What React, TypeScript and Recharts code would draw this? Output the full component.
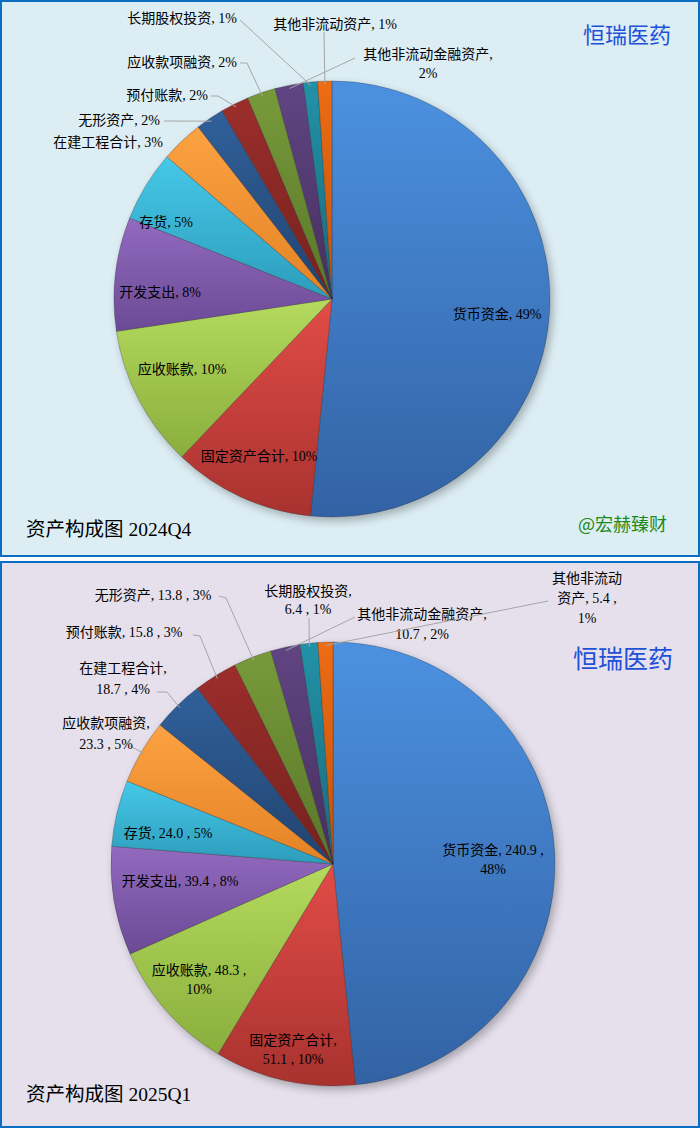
import React from 'react';
import { PieChart, Pie, Cell } from 'recharts';

// ---------- data ----------
const q4Names = ['货币资金', '固定资产合计', '应收账款', '开发支出', '存货', '在建工程合计', '无形资产', '预付账款', '应收款项融资', '其他非流动金融资产', '长期股权投资', '其他非流动资产'];
const q4Pct = [49, 10, 10, 8, 5, 3, 2, 2, 2, 2, 1, 1];

const q1Names = ['货币资金', '固定资产合计', '应收账款', '开发支出', '存货', '应收款项融资', '在建工程合计', '预付账款', '无形资产', '其他非流动金融资产', '长期股权投资', '其他非流动资产'];
const q1Values = [240.9, 51.1, 48.3, 39.4, 24.0, 23.3, 18.7, 15.8, 13.8, 10.7, 6.4, 5.4];

const company = '恒瑞医药';
const q4Title = '资产构成图 2024Q4';
const q1Title = '资产构成图 2025Q1';
const watermark = '@宏赫臻财';

// ---------- styles ----------
const sliceColors: [string, string][] = [
  ['#4C91E0', '#3262A4'],
  ['#E24C47', '#A8322F'],
  ['#B4DA5E', '#8AAE3C'],
  ['#926ABF', '#6B4A95'],
  ['#46C8E8', '#2D9CBB'],
  ['#FCA242', '#E38224'],
  ['#30609A', '#22436F'],
  ['#9C2E2B', '#74211F'],
  ['#789A3B', '#587728'],
  ['#604583', '#462F5E'],
  ['#2292A8', '#196A7B'],
  ['#EE6C14', '#C2520A'],
];

const FONT = "'Liberation Serif', 'Noto Sans CJK SC', serif";
const LEADER = '#A6A6A6';

type Lay = { x: number; y: number; a: 'start' | 'middle' | 'end'; lh?: number; lead?: number[][]; mode: string };

// label layout relative to pie centre (pixels)
const q4Layout: Lay[] = [
  { x: 165, y: 15, a: 'middle', mode: 'one' },
  { x: -73, y: 157, a: 'middle', mode: 'one' },
  { x: -150, y: 70, a: 'middle', mode: 'one' },
  { x: -172, y: -7, a: 'middle', mode: 'one' },
  { x: -166, y: -77, a: 'middle', mode: 'one' },
  { x: -169, y: -157, a: 'end', mode: 'one' },
  { x: -172, y: -179, a: 'end', mode: 'one', lead: [[-168, -178]] },
  { x: -124, y: -204, a: 'end', mode: 'one', lead: [[-121, -203], [-114, -203]] },
  { x: -95, y: -237, a: 'end', mode: 'one', lead: [[-92, -236], [-85, -236]] },
  { x: 96, y: -245, a: 'middle', lh: 19, mode: 'nameBreak', lead: [[23, -241]] },
  { x: -95, y: -281, a: 'end', mode: 'one', lead: [[-92, -279]] },
  { x: 3, y: -275, a: 'middle', mode: 'one', lead: [[-8, -267]] },
];

const q1Layout: Lay[] = [
  { x: 160, y: -14, a: 'middle', lh: 19, mode: 'pctBreak' },
  { x: -40, y: 176, a: 'middle', lh: 19, mode: 'nameBreak' },
  { x: -134, y: 106, a: 'middle', lh: 19, mode: 'pctBreak' },
  { x: -153, y: 17, a: 'middle', mode: 'one' },
  { x: -165, y: -31, a: 'middle', mode: 'one' },
  { x: -227, y: -141, a: 'middle', lh: 21, mode: 'nameBreak', lead: [[-203, -118]] },
  { x: -210, y: -196, a: 'middle', lh: 21, mode: 'nameBreak', lead: [[-176, -172], [-166, -172]] },
  { x: -209, y: -232, a: 'middle', mode: 'one', lead: [[-140, -229], [-133, -228]] },
  { x: -180, y: -269, a: 'middle', mode: 'one', lead: [[-114, -268], [-107, -266]] },
  { x: 89, y: -250, a: 'middle', lh: 20, mode: 'nameBreak', lead: [[22, -247]] },
  { x: -25, y: -273, a: 'middle', lh: 18, mode: 'nameBreak', lead: [[-24, -246]] },
  { x: 254, y: -286, a: 'middle', lh: 20, mode: 'split5', lead: [[215, -263]] },
];

const q4Data = q4Names.map((name, i) => ({ name, value: q4Pct[i] }));
const q1Total = q1Values.reduce((s, v) => s + v, 0);
const q1Data = q1Names.map((name, i) => ({ name, value: q1Values[i] }));

const q4Lines = (i: number) => {
  const n = q4Names[i];
  const p = `${q4Pct[i]}%`;
  const m = q4Layout[i].mode;
  if (m === 'nameBreak') return [`${n},`, p];
  return [`${n}, ${p}`];
};

const q1Lines = (i: number) => {
  const n = q1Names[i];
  const v = q1Values[i].toFixed(1);
  const p = `${Math.round((q1Values[i] / q1Total) * 100)}%`;
  const m = q1Layout[i].mode;
  if (m === 'pctBreak') return [`${n}, ${v} ,`, p];
  if (m === 'nameBreak') return [`${n},`, `${v} , ${p}`];
  if (m === 'split5') return [n.slice(0, 5), `${n.slice(5)}, ${v} ,`, p];
  return [`${n}, ${v} , ${p}`];
};

const makeLabel = (layout: Lay[], linesOf: (i: number) => string[]) => (props: any) => {
  const { cx, cy, midAngle, outerRadius, index } = props;
  const L = layout[index];
  const lines = linesOf(index);
  const lh = L.lh || 19;
  const RAD = Math.PI / 180;
  const ex = cx + outerRadius * 0.985 * Math.cos(-midAngle * RAD);
  const ey = cy + outerRadius * 0.985 * Math.sin(-midAngle * RAD);
  const pts = L.lead ? [...L.lead.map(([px, py]) => `${cx + px},${cy + py}`), `${ex},${ey}`].join(' ') : null;
  return (
    <g>
      {pts && <polyline points={pts} fill="none" stroke={LEADER} strokeWidth={1} />}
      {lines.map((t, k) => (
        <text
          key={k}
          x={cx + L.x}
          y={cy + L.y + k * lh}
          textAnchor={L.a}
          dominantBaseline="central"
          fontSize={14}
          fontFamily={FONT}
          fill="#000"
        >
          {t}
        </text>
      ))}
    </g>
  );
};

const Gradients = ({ id }: { id: string }) => (
  <defs>
    {sliceColors.map(([a, b], i) => (
      <linearGradient key={i} id={`${id}-g${i}`} x1="0" y1="0" x2="0" y2="1">
        <stop offset="0%" stopColor={a} />
        <stop offset="100%" stopColor={b} />
      </linearGradient>
    ))}
  </defs>
);

const Panel = (p: {
  top: number; height: number; bg: string; id: string; data: any[]; cx: number; cy: number; r: number;
  label: (props: any) => any; title: string; titleTop: number; companyTop: number; companyLeft: number;
  companySize: number; mark?: boolean;
}) => (
  <div
    style={{
      position: 'absolute', left: 0, top: p.top, width: 700, height: p.height, boxSizing: 'border-box',
      border: '2px solid #0A6FC3', background: p.bg, overflow: 'hidden',
    }}
  >
    <PieChart width={696} height={p.height - 4} margin={{ top: 0, right: 0, bottom: 0, left: 0 }}>
      <Gradients id={p.id} />
      <Pie
        data={[{ name: 's', value: 1 }]}
        dataKey="value"
        cx={p.cx + 3}
        cy={p.cy + 4}
        outerRadius={p.r}
        startAngle={90}
        endAngle={-270}
        stroke="none"
        isAnimationActive={false}
        label={false}
        labelLine={false}
      >
        <Cell fill="rgba(0,0,0,0.28)" style={{ filter: 'blur(4px)' }} />
      </Pie>
      <Pie
        data={p.data}
        dataKey="value"
        nameKey="name"
        cx={p.cx}
        cy={p.cy}
        outerRadius={p.r}
        startAngle={90}
        endAngle={-270}
        isAnimationActive={false}
        labelLine={false}
        label={p.label}
      >
        {p.data.map((_, i) => (
          <Cell key={i} fill={`url(#${p.id}-g${i})`} stroke="rgba(40,40,40,0.35)" strokeWidth={0.8} />
        ))}
      </Pie>
    </PieChart>
    <div
      style={{
        position: 'absolute', left: p.companyLeft, top: p.companyTop, fontSize: p.companySize, color: '#1E50D8',
        fontFamily: "'Noto Sans CJK SC', sans-serif", lineHeight: '28px', whiteSpace: 'nowrap',
      }}
    >
      {company}
    </div>
    <div
      style={{
        position: 'absolute', left: 24, top: p.titleTop, fontSize: 19.5, color: '#000',
        fontFamily: FONT, lineHeight: '22px', whiteSpace: 'nowrap',
      }}
    >
      {p.title}
    </div>
    {p.mark && (
      <div
        style={{
          position: 'absolute', left: 576, top: 510, fontSize: 18, color: '#1C8A1C',
          fontFamily: "'Noto Sans CJK SC', sans-serif", lineHeight: '22px', whiteSpace: 'nowrap',
        }}
      >
        {watermark}
      </div>
    )}
  </div>
);

export default function App() {
  return (
    <div style={{ position: 'absolute', left: 0, top: 0, width: 700, height: 1128, background: '#fff' }}>
      <Panel
        top={0} height={557} bg="#DCEEF4" id="q4" data={q4Data} cx={330} cy={297} r={218}
        label={makeLabel(q4Layout, q4Lines)} title={q4Title} titleTop={517} companyTop={17} companyLeft={581}
        companySize={22} mark
      />
      <Panel
        top={561} height={567} bg="#E5E0EC" id="q1" data={q1Data} cx={331} cy={301} r={222}
        label={makeLabel(q1Layout, q1Lines)} title={q1Title} titleTop={521} companyTop={80} companyLeft={571}
        companySize={25}
      />
    </div>
  );
}
